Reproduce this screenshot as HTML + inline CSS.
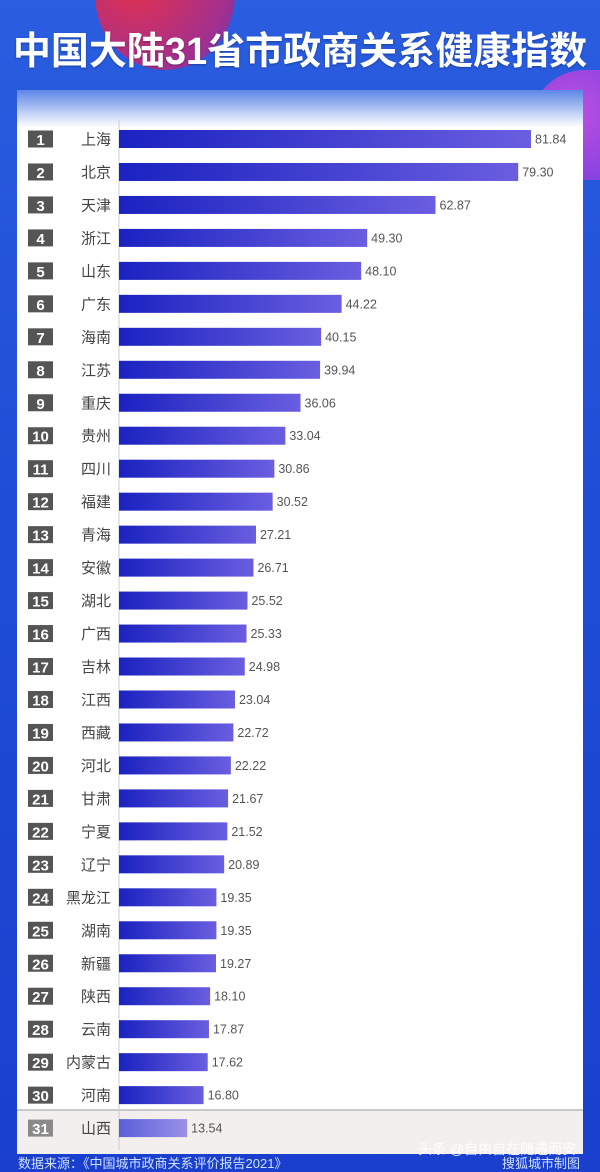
<!DOCTYPE html>
<html><head><meta charset="utf-8">
<style>
html,body{margin:0;padding:0}
#wrap{width:600px;height:1172px;overflow:hidden;background:linear-gradient(180deg,#2a5de0 0%,#1f4fd6 40%,#1a3fcf 100%);font-family:"Liberation Sans","Noto Sans CJK SC",sans-serif;position:relative}
.blob{position:absolute;border-radius:50%}
</style></head><body>
<div id="wrap">
<div class="blob" style="left:95px;top:-80px;width:140px;height:150px;background:radial-gradient(circle at 30% 40%,#e8304a,#a03090 70%,#4040d0);"></div>
<div class="blob" style="left:530px;top:70px;width:70px;height:110px;border-radius:60px 0 0 60px;background:radial-gradient(circle at 60% 40%,#c050e0,#8040e0);"></div>
<div style="position:absolute;left:0;width:600px;top:20px;text-align:center;color:#fff;font-weight:bold;font-size:38px;letter-spacing:0px;text-shadow:0 1px 2px rgba(0,0,0,.3)">中国大陆31省市政商关系健康指数</div>
<svg id="chart" width="600" height="1172" style="position:absolute;left:0;top:0">
<defs>
<linearGradient id="panelg" x1="0" y1="0" x2="0" y2="1"><stop offset="0" stop-color="#5d86e8"/><stop offset="0.035" stop-color="#ffffff"/></linearGradient>
<linearGradient id="barg" x1="0" y1="0" x2="1" y2="0"><stop offset="0" stop-color="#1a22c0"/><stop offset="1" stop-color="#6a5ee0"/></linearGradient>
<linearGradient id="barg2" x1="0" y1="0" x2="1" y2="0"><stop offset="0" stop-color="#5a60d8"/><stop offset="1" stop-color="#9a90e8"/></linearGradient>
</defs>
<rect x="17" y="90" width="566" height="1064" fill="url(#panelg)"/>
<rect x="17" y="1110" width="566" height="44" fill="#f3efee"/>
<line x1="17" y1="1110" x2="583" y2="1110" stroke="#999" stroke-width="1"/>
<line x1="119" y1="120" x2="119" y2="1150" stroke="#ccc" stroke-width="1"/>
<g id="rows"></g>
</svg>
<div style="position:absolute;left:18px;top:1156px;color:#cfe0ff;font-size:13px;line-height:15px">数据来源：《中国城市政商关系评价报告2021》</div>
<div style="position:absolute;left:418px;top:1139px;color:#fff;font-size:14px;opacity:.9">头条 @自由自在随遇而安</div>
<div style="position:absolute;right:20px;top:1156px;color:#cfe0ff;font-size:13px;line-height:15px">搜狐城市制图</div>
</div>
<script>
const categories=["上海","北京","天津","浙江","山东","广东","海南","江苏","重庆","贵州","四川","福建","青海","安徽","湖北","广西","吉林","江西","西藏","河北","甘肃","宁夏","辽宁","黑龙江","湖南","新疆","陕西","云南","内蒙古","河南","山西"];
const values=[81.84,79.30,62.87,49.30,48.10,44.22,40.15,39.94,36.06,33.04,30.86,30.52,27.21,26.71,25.52,25.33,24.98,23.04,22.72,22.22,21.67,21.52,20.89,19.35,19.35,19.27,18.10,17.87,17.62,16.80,13.54];
const valueLabels=["81.84","79.30","62.87","49.30","48.10","44.22","40.15","39.94","36.06","33.04","30.86","30.52","27.21","26.71","25.52","25.33","24.98","23.04","22.72","22.22","21.67","21.52","20.89","19.35","19.35","19.27","18.10","17.87","17.62","16.80","13.54"];
const NS="http://www.w3.org/2000/svg";
const x0=119, pxPer=412/81.84;
function xScale(v){return x0+v*pxPer;}
function yScale(i){return 139+i*32.97;}
const g=document.getElementById('rows');
function mk(t,a){const e=document.createElementNS(NS,t);for(const k in a)e.setAttribute(k,a[k]);return e;}
categories.forEach((c,i)=>{
 const y=yScale(i), last=i===categories.length-1;
 const badge=mk('rect',{x:28,y:y-8.5,width:25,height:17,fill:last?'#8a8a8a':'#555'});
 
 
 g.appendChild(badge);
 const bt=mk('text',{x:40.5,y:y+6,'text-anchor':'middle',fill:'#fff','font-size':15,'font-weight':'bold'});
 bt.textContent=String(i+1);
 
 
 g.appendChild(bt);
 const lt=mk('text',{x:111,y:y+5.5,'text-anchor':'end',fill:'#444','font-size':15});
 lt.textContent=c;
 
 
 g.appendChild(lt);
 const b=mk('rect',{x:x0,y:y-9,width:xScale(values[i])-x0,height:18,fill:last?'url(#barg2)':'url(#barg)'});
 
 
 g.appendChild(b);
 const vt=mk('text',{x:xScale(values[i])+4,y:y+4.5,fill:'#555','font-size':12.5});
 vt.textContent=valueLabels[i];
 
 
 g.appendChild(vt);
});
</script>
</body></html>
